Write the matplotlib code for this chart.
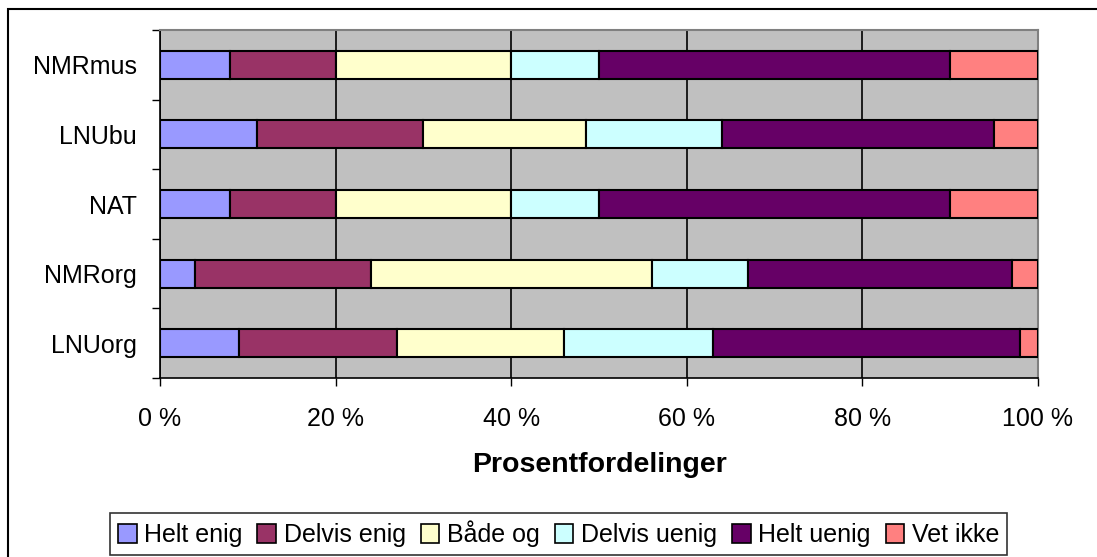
import matplotlib.pyplot as plt
from matplotlib.patches import Rectangle, Patch
from matplotlib.ticker import FixedLocator, FuncFormatter
import numpy as np

plt.rcParams['font.family'] = ['Liberation Sans', 'DejaVu Sans']

# answer shares per group (percent), top to bottom
groups = ['NMRmus', 'LNUbu', 'NAT', 'NMRorg', 'LNUorg']
answers = ['Helt enig', 'Delvis enig', 'Både og', 'Delvis uenig', 'Helt uenig', 'Vet ikke']
helt_enig = [8, 11, 8, 4, 9]
delvis_enig = [12, 19, 12, 20, 18]
baade_og = [20, 18.5, 20, 32, 19]
delvis_uenig = [10, 15.5, 10, 11, 17]
helt_uenig = [40, 31, 40, 30, 35]
vet_ikke = [10, 5, 10, 3, 2]
x_ticks = [0, 20, 40, 60, 80, 100]

series = [helt_enig, delvis_enig, baade_og, delvis_uenig, helt_uenig, vet_ikke]
colors = ['#9999FF', '#993366', '#FFFFCC', '#CCFFFF', '#660066', '#FF8080']

W, H = 1097, 557
fig = plt.figure(figsize=(W / 100, H / 100), dpi=100)
ax = fig.add_axes([160 / W, 1 - 378 / H, (1038 - 160) / W, (378 - 30) / H])
ax.set_facecolor('#C0C0C0')

y = np.arange(len(groups))
left = np.zeros(len(groups))
for vals, col in zip(series, colors):
    ax.barh(y, vals, left=left, height=0.4, color=col, edgecolor='black',
            linewidth=1.5, zorder=3)
    left += np.array(vals)

ax.set_xlim(0, 100)
ax.set_ylim(len(groups) - 0.5, -0.5)

ax.xaxis.set_major_locator(FixedLocator(x_ticks))
ax.xaxis.set_major_formatter(FuncFormatter(lambda v, p: f'{int(v)} %'))
ax.grid(axis='x', color='black', linewidth=1.2, zorder=1)
ax.set_axisbelow(True)

ax.set_yticks(y)
ax.set_yticklabels(groups)
ax.yaxis.set_minor_locator(FixedLocator(np.arange(-0.5, len(groups), 1)))
ax.tick_params(axis='y', which='major', length=0, pad=16.5, labelsize=18)
ax.tick_params(axis='y', which='minor', length=6, width=1, direction='out')
ax.tick_params(axis='x', which='major', length=6, width=1, direction='out',
               pad=15, labelsize=18)

for side in ['left', 'bottom']:
    ax.spines[side].set_color('black')
    ax.spines[side].set_linewidth(1.2)
for side in ['top', 'right']:
    ax.spines[side].set_color('#808080')
    ax.spines[side].set_linewidth(1.5)

ax.set_xlabel('Prosentfordelinger', fontsize=20.5, fontweight='bold', labelpad=15)

handles = [Patch(facecolor=c, edgecolor='black', linewidth=1.2) for c in colors]
leg = fig.legend(handles, answers, loc='center',
                 bbox_to_anchor=((116 + 1001) / 2 / W, 1 - 534 / H),
                 ncol=6, fontsize=18, frameon=True, fancybox=False,
                 handlelength=0.75, handleheight=0.75, handletextpad=0.3,
                 columnspacing=0.6, borderpad=0.3, borderaxespad=0)
leg.get_frame().set_edgecolor('black')
leg.get_frame().set_linewidth(1.2)

# outer chart border
fig.add_artist(Rectangle((8 / W, -0.1), 2, 1 - 9 / H + 0.1, transform=fig.transFigure,
                         fill=False, edgecolor='black', linewidth=1.5))

fig.savefig('out.png', dpi=100)
